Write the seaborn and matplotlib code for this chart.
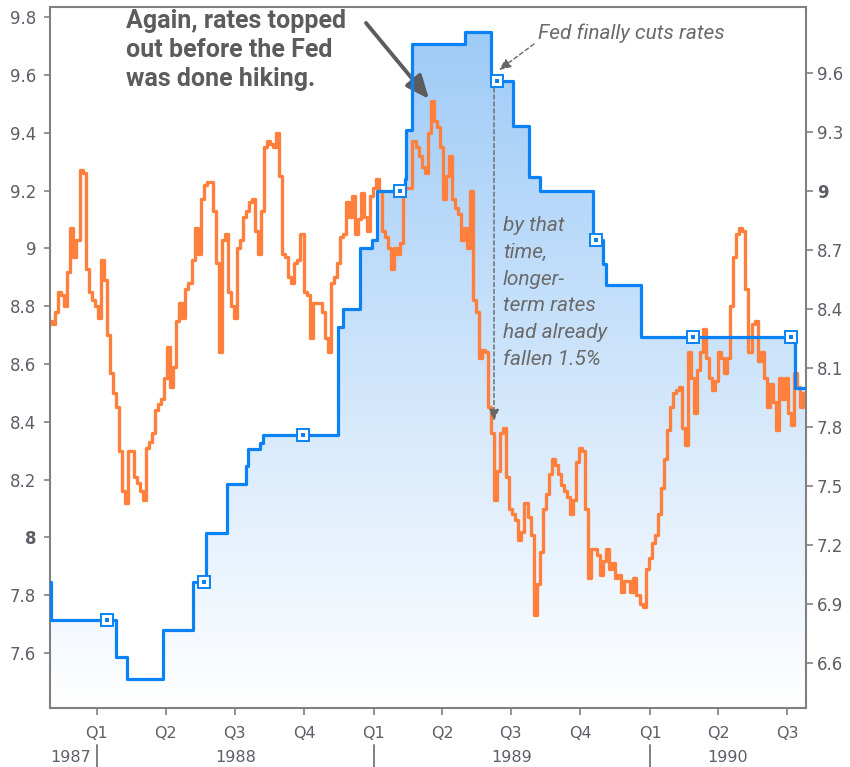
import numpy as np
import pandas as pd
import matplotlib
matplotlib.use('Agg')
import matplotlib.pyplot as plt
import matplotlib.dates as mdates
import matplotlib.transforms as mtransforms
from matplotlib.colors import LinearSegmentedColormap
import seaborn as sns

# --- 0. DATA ---
# longer-term rate, left axis, one reading every 4 days from 1987-10-30
LONG_START = '1987-10-30'
long_rate = [
    8.75, 8.74, 8.78, 8.85, 8.84, 8.80, 8.92, 9.07, 8.97, 9.03,
    9.27, 9.26, 8.93, 8.85, 8.82, 8.80, 8.76, 8.96, 8.89, 8.70,
    8.57, 8.50, 8.45, 8.30, 8.16, 8.12, 8.30, 8.30, 8.21, 8.19,
    8.16, 8.13, 8.31, 8.33, 8.36, 8.44, 8.46, 8.48, 8.55, 8.66,
    8.52, 8.59, 8.75, 8.81, 8.76, 8.86, 8.88, 8.96, 9.07, 8.98,
    9.17, 9.22, 9.23, 9.23, 9.13, 8.95, 8.64, 9.03, 9.05, 8.85,
    8.80, 8.76, 9.00, 9.03, 9.11, 9.13, 9.16, 9.17, 9.06, 8.98,
    9.13, 9.35, 9.37, 9.36, 9.35, 9.40, 9.25, 8.98, 8.97, 8.90,
    8.88, 8.95, 8.96, 9.05, 8.85, 8.84, 8.69, 8.81, 8.81, 8.81,
    8.78, 8.69, 8.64, 8.88, 8.90, 8.95, 9.04, 9.05, 9.16, 9.11,
    9.18, 9.05, 9.10, 9.19, 9.11, 9.06, 9.18, 9.21, 9.24, 9.20,
    9.06, 9.04, 9.00, 8.93, 9.00, 8.98, 9.02, 9.21, 9.21, 9.21,
    9.37, 9.35, 9.32, 9.28, 9.26, 9.40, 9.51, 9.44, 9.42, 9.35,
    9.17, 9.25, 9.32, 9.17, 9.14, 9.12, 9.03, 9.07, 9.00, 9.20,
    8.82, 8.78, 8.62, 8.65, 8.64, 8.45, 8.36, 8.13, 8.23, 8.36,
    8.38, 8.21, 8.10, 8.08, 8.06, 7.99, 8.02, 8.12, 8.07, 8.01,
    7.73, 7.84, 7.95, 8.10, 8.15, 8.22, 8.27, 8.25, 8.22, 8.18,
    8.16, 8.14, 8.08, 8.13, 8.26, 8.31, 8.30, 8.10, 7.86, 7.96,
    7.96, 7.94, 7.87, 7.92, 7.96, 7.89, 7.91, 7.86, 7.87, 7.81,
    7.85, 7.85, 7.81, 7.86, 7.80, 7.77, 7.76, 7.89, 7.93, 7.98,
    8.01, 8.08, 8.17, 8.27, 8.37, 8.45, 8.50, 8.51, 8.52, 8.38,
    8.32, 8.64, 8.55, 8.43, 8.58, 8.64, 8.72, 8.62, 8.55, 8.51,
    8.54, 8.64, 8.62, 8.57, 8.62, 8.80, 8.97, 9.05, 9.07, 9.06,
    8.86, 8.64, 8.74, 8.75, 8.61, 8.64, 8.55, 8.45, 8.53, 8.47,
    8.37, 8.55, 8.48, 8.55, 8.43, 8.39, 8.57, 8.52, 8.45, 8.50, 8.47,
]

# fed funds target, right axis, value from each date on
fed_dates = [
    '1987-10-30', '1987-11-01', '1988-01-26', '1988-02-10', '1988-03-28',
    '1988-05-07', '1988-05-24', '1988-06-21', '1988-07-16', '1988-07-18',
    '1988-08-03', '1988-08-07', '1988-11-14', '1988-11-21', '1988-12-13',
    '1988-12-30', '1989-01-05', '1989-02-11', '1989-02-13', '1989-02-20',
    '1989-05-02', '1989-06-05', '1989-07-04', '1989-07-25', '1989-08-09',
    '1989-10-18', '1989-10-31', '1989-11-04', '1989-12-20', '1990-07-12',
    '1990-07-26',
]
fed_rate = [
    7.01, 6.82, 6.63, 6.52, 6.77, 7.01, 7.26, 7.51, 7.60, 7.69,
    7.72, 7.76, 8.31, 8.40, 8.71, 8.75, 9.00, 9.06, 9.31, 9.75,
    9.81, 9.56, 9.33, 9.07, 9.00, 8.75, 8.63, 8.52, 8.26, 8.00,
    8.00,
]
marker_dates = ['1988-01-14', '1988-05-22', '1988-09-29', '1989-02-04',
                '1989-06-13', '1989-10-22', '1990-02-27', '1990-07-06']

quarter_labels = ['Q1', 'Q2', 'Q3', 'Q4']
years = [1987, 1988, 1989, 1990]
left_ticks = [7.6, 7.8, 8.0, 8.2, 8.4, 8.6, 8.8, 9.0, 9.2, 9.4, 9.6, 9.8]
right_ticks = [6.6, 6.9, 7.2, 7.5, 7.8, 8.1, 8.4, 8.7, 9.0, 9.3, 9.6]

# --- 1. STYLE ---
BLUE = '#0a82f6'
ORANGE = '#ff7f3c'
TICK_GREY = '#5e5e68'
NOTE_GREY = '#5c5c5c'
ITAL_GREY = '#6a6a6a'
W, H = 850, 767
X0, X1 = pd.Timestamp('1987-10-31'), pd.Timestamp('1990-07-26')
LEFT_LIM = (7.41, 9.835)
RIGHT_LIM = (6.371, 9.936)

sns.set_style('ticks')
plt.rcParams['font.family'] = ['DejaVu Sans']

long_dates = pd.date_range(LONG_START, periods=len(long_rate), freq='4D')
fed = pd.Series(fed_rate, index=pd.to_datetime(fed_dates))
marks = pd.to_datetime(marker_dates)

fig = plt.figure(figsize=(W / 100, H / 100), dpi=100)
ax = fig.add_axes([50 / W, 1 - 708 / H, 756 / W, 701 / H])
axf = ax.twinx()   # gradient fill under the fed line
axr = ax.twinx()   # fed line + right ticks
axf.set_zorder(0)
ax.set_zorder(1)
axr.set_zorder(2)
ax.patch.set_visible(False)

# orange long rate
sns.lineplot(x=long_dates, y=long_rate, ax=ax, color=ORANGE, linewidth=2.4,
             drawstyle='steps-post', estimator=None)

# blue fed funds step line
sns.lineplot(x=fed.index, y=fed.values, ax=axr, color=BLUE, linewidth=2.3,
             drawstyle='steps-post', estimator=None)
mv = fed.asof(marks)
axr.plot(marks, mv.values, 's', ms=8.5, mfc='white', mec=BLUE, mew=1.4)
axr.plot(marks, mv.values, 's', ms=3.2, color=BLUE, mew=0)

# gradient fill under the blue line
for a in (ax, axf, axr):
    a.set_xlim(X0, X1)
ax.set_ylim(*LEFT_LIM)
axf.set_ylim(*RIGHT_LIM)
axr.set_ylim(*RIGHT_LIM)
poly = axf.fill_between(fed.index, fed.values, RIGHT_LIM[0], step='post',
                        facecolor='none', edgecolor='none')
cmap = LinearSegmentedColormap.from_list('fedfill', ['#ffffff', '#9bc9f7'])
grad = np.linspace(0, 1, 256).reshape(-1, 1)
img = axf.imshow(grad, cmap=cmap, origin='lower', aspect='auto',
                 extent=[mdates.date2num(X0), mdates.date2num(X1),
                         RIGHT_LIM[0], RIGHT_LIM[1]])
img.set_clip_path(poly.get_paths()[0], transform=axf.transData)
axf.set_xlim(X0, X1)
axf.set_ylim(*RIGHT_LIM)
axf.yaxis.set_visible(False)

# --- 2. AXES ---
for a in (axf, axr):
    for s in a.spines.values():
        s.set_visible(False)
for s in ax.spines.values():
    s.set_visible(True)
    s.set_color('#808080')
    s.set_linewidth(1.5)

ax.set_yticks(left_ticks)
ax.set_yticklabels([f'{v:g}' for v in left_ticks])
axr.set_yticks(right_ticks)
axr.set_yticklabels([f'{v:g}' for v in right_ticks])
ax.tick_params(axis='y', length=4, width=1.2, color='#808080', pad=6,
               labelsize=12, labelcolor=TICK_GREY)
axr.tick_params(axis='y', length=5, width=1.2, color='#808080', pad=3,
                labelsize=12, labelcolor=TICK_GREY)
for t in ax.get_yticklabels():
    if t.get_text() == '8':
        t.set_fontweight('bold')
for t in axr.get_yticklabels():
    if t.get_text() == '9':
        t.set_fontweight('bold')

qticks = pd.date_range('1988-01-01', X1, freq='QS')
ax.set_xticks(qticks)
ax.set_xticklabels([quarter_labels[d.quarter - 1] for d in qticks])
ax.tick_params(axis='x', length=5, width=1.2, color='#808080', pad=8,
               labelsize=11.5, labelcolor=TICK_GREY)
ax.set_xlabel('')
ax.set_ylabel('')
axr.set_ylabel('')

# year row under the quarters
trans = mtransforms.blended_transform_factory(ax.transData, ax.transAxes)
for y in years:
    start = max(pd.Timestamp(f'{y}-01-01'), X0)
    end = min(pd.Timestamp(f'{y + 1}-01-01'), X1)
    if y == years[0]:
        ax.text(start, -0.071, str(y), transform=trans, ha='left', va='center',
                fontsize=11.5, color=TICK_GREY)
    else:
        mid = start + (end - start) / 2
        ax.text(mid, -0.071, str(y), transform=trans, ha='center', va='center',
                fontsize=11.5, color=TICK_GREY)
        ax.plot([start, start], [-0.053, -0.087], transform=trans,
                color='#808080', lw=1.4, clip_on=False)


# --- 3. ANNOTATIONS (pixel positions, top-left origin) ---
def px(x, y):
    return (x, H - y)


fig.text(126 / W, 1 - 9 / H, 'Again, rates topped\nout before the Fed\nwas done hiking.',
         ha='left', va='top', fontsize=18, fontweight='bold', family='Roboto',
         color=NOTE_GREY, linespacing=1.27)
ax.annotate('', xy=px(429, 99), xytext=px(366, 23),
            xycoords='figure pixels', textcoords='figure pixels',
            arrowprops=dict(arrowstyle='-|>,head_length=1.4,head_width=0.6',
                            lw=2.8, color=NOTE_GREY, shrinkA=0, shrinkB=0,
                            mutation_scale=10))

fig.text(538 / W, 1 - 33 / H, 'Fed finally cuts rates', ha='left', va='center',
         fontsize=15, style='italic', family='Roboto', color=ITAL_GREY)
ax.annotate('', xy=px(499, 70), xytext=px(534, 44),
            xycoords='figure pixels', textcoords='figure pixels',
            arrowprops=dict(arrowstyle='-|>,head_length=0.7,head_width=0.3',
                            lw=1, ls=(0, (3, 2)), color='#666666',
                            shrinkA=0, shrinkB=0, mutation_scale=10))
ax.annotate('', xy=px(494, 421), xytext=px(494, 88),
            xycoords='figure pixels', textcoords='figure pixels',
            arrowprops=dict(arrowstyle='-|>,head_length=0.7,head_width=0.3',
                            lw=1, ls=(0, (3, 2)), color='#666666',
                            shrinkA=0, shrinkB=0, mutation_scale=10))
fig.text(503 / W, 1 - 216 / H,
         'by that\ntime,\nlonger-\nterm rates\nhad already\nfallen 1.5%',
         ha='left', va='top', fontsize=15, style='italic', family='Roboto',
         color=ITAL_GREY, linespacing=1.52)

fig.savefig('out.png', dpi=100, facecolor='white')
plt.close(fig)
